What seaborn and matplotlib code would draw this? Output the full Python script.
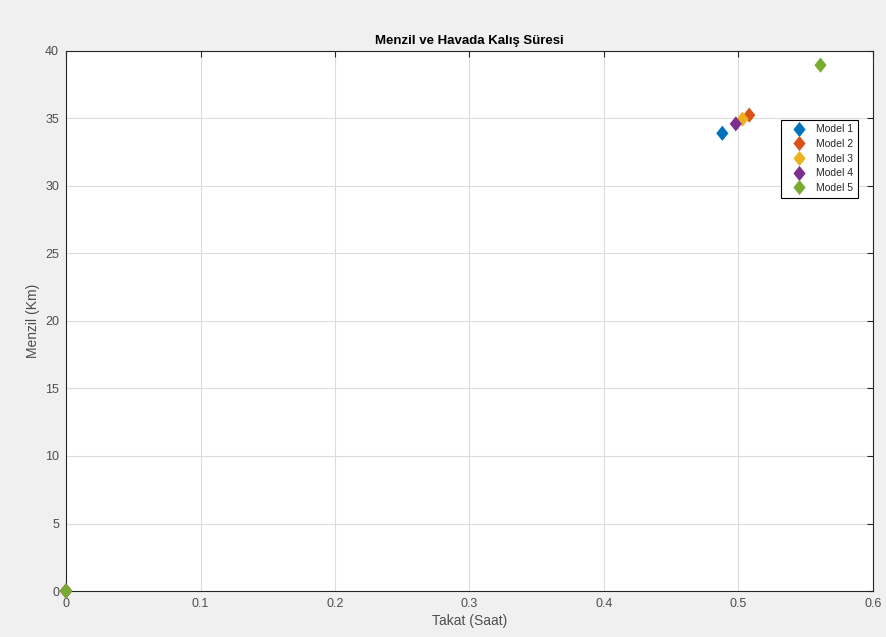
import matplotlib
matplotlib.use("Agg")
import matplotlib.pyplot as plt
import pandas as pd
import seaborn as sns

# ------------------------------------------
# DATA
# ------------------------------------------

models    = ["Model 1", "Model 2", "Model 3", "Model 4", "Model 5"]
takat     = [0.488, 0.508, 0.503, 0.498, 0.561]   # Saat
menzil    = [33.9, 35.25, 34.95, 34.6, 38.95]     # Km
start_x   = [0, 0, 0, 0, 0]
start_y   = [0, 0, 0, 0, 0]
colors    = ["#0072BD", "#D95319", "#EDB120", "#7E2F8E", "#77AC30"]

rows = []
for m, x0, y0, x1, y1 in zip(models, start_x, start_y, takat, menzil):
    rows.append({"model": m, "takat": x0, "menzil": y0})
    rows.append({"model": m, "takat": x1, "menzil": y1})
df = pd.DataFrame(rows)

# ------------------------------------------
# PLOT
# ------------------------------------------

sns.set_style("white")
plt.rcParams["font.family"] = ["Liberation Sans", "DejaVu Sans"]

diamond = [(0, 1), (0.8, 0), (0, -1), (-0.8, 0), (0, 1)]

fig = plt.figure(figsize=(8.86, 6.37), dpi=100, facecolor="#F0F0F0")
ax = fig.add_axes([0.0745, 0.0722, 0.9108, 0.8478])

sns.scatterplot(
    data=df, x="takat", y="menzil", hue="model",
    hue_order=models, palette=colors,
    marker=diamond, s=120, edgecolor="none", linewidth=0,
    ax=ax, clip_on=False, zorder=3,
)

ax.set_xlim(0, 0.6)
ax.set_ylim(0, 40)
ax.set_xticks([0, 0.1, 0.2, 0.3, 0.4, 0.5, 0.6])
ax.set_xticklabels(["0", "0.1", "0.2", "0.3", "0.4", "0.5", "0.6"])
ax.set_yticks(range(0, 41, 5))

ax.grid(True, color="#DCDCDC", linewidth=0.8)
ax.set_axisbelow(True)
for sp in ax.spines.values():
    sp.set_color("#262626")
    sp.set_linewidth(0.8)
ax.tick_params(direction="in", length=4, width=0.8, top=True, right=True,
               colors="#262626", labelsize=9, labelcolor="#4D4D4D", pad=5)

ax.set_xlabel("Takat (Saat)", fontsize=10, color="#4D4D4D", labelpad=3)
ax.set_ylabel("Menzil (Km)", fontsize=10, color="#4D4D4D", labelpad=4)
ax.set_title("Menzil ve Havada Kalış Süresi", fontsize=9.5, fontweight="bold",
             color="black", pad=5)

leg = ax.legend(loc="upper right", bbox_to_anchor=(0.981, 0.873), fontsize=7.5,
                frameon=True, fancybox=False, framealpha=1, borderpad=0.45,
                handletextpad=0.3, labelspacing=0.45, handlelength=2.6,
                markerscale=1.0, borderaxespad=0)
leg.get_frame().set_edgecolor("black")
leg.get_frame().set_linewidth(0.8)

plt.savefig("out.png", dpi=100, facecolor=fig.get_facecolor())
plt.close()
